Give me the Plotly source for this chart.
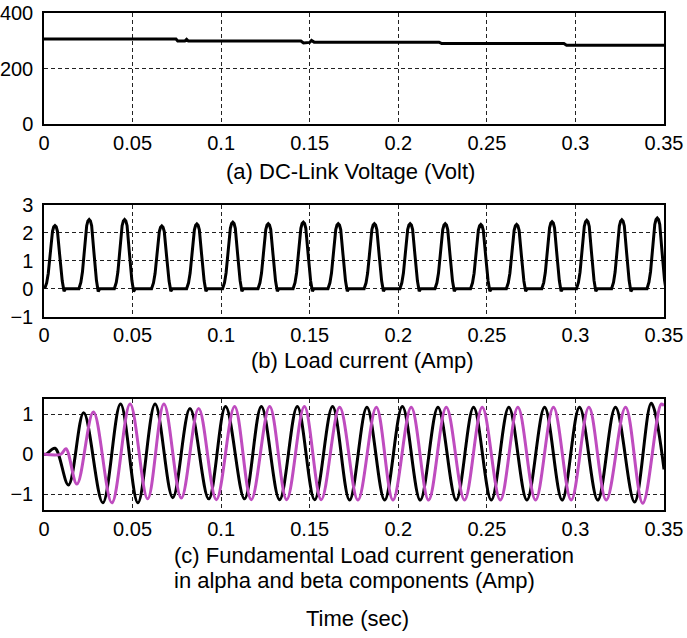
import plotly.graph_objects as go
from plotly.subplots import make_subplots

# ---------------- data ----------------
# (a) DC-link voltage, breakpoints of the stepped trace
dc_t = [0, 0.0745, 0.0755, 0.0795, 0.0805, 0.0815, 0.1450, 0.1465, 0.1500, 0.1510,
        0.1525, 0.2230, 0.2245, 0.2935, 0.2950, 0.35]
dc_v = [306, 306, 299, 299, 305, 299, 299, 292, 294, 301,
        295, 295, 290, 290, 284, 284]

# (b) load current: pulse peak times / peak values, plus pulse profile read from one pulse
peak_t = [0.0062, 0.0255, 0.0455, 0.0665, 0.0863, 0.1066, 0.1266, 0.1464, 0.1661,
          0.1865, 0.2067, 0.2265, 0.2466, 0.2668, 0.2868, 0.3064, 0.3262, 0.3462]
peak_v = [2.26, 2.48, 2.48, 2.25, 2.32, 2.38, 2.33, 2.38, 2.33,
          2.33, 2.33, 2.33, 2.30, 2.30, 2.40, 2.45, 2.47, 2.53]
pulse_dt = [-0.0058, -0.0047, -0.0038, -0.0026, -0.0014, -0.0007, 0.0,
            0.0007, 0.0014, 0.0027, 0.0041, 0.0051, 0.0060]
pulse_frac = [0.0, 0.09, 0.24, 0.56, 0.91, 0.98, 1.0,
              0.98, 0.91, 0.52, 0.12, -0.04, 0.0]

# (c) alpha (black) and beta (magenta) components: extrema of each trace
alpha_t = [0, 0.0012, 0.0062, 0.0138, 0.0224, 0.0332, 0.0432, 0.0530, 0.0627, 0.0727,
           0.0824, 0.0930, 0.1025, 0.1132, 0.1227, 0.1330, 0.1430, 0.1528, 0.1629,
           0.1725, 0.1823, 0.1923, 0.2023, 0.2124, 0.2224, 0.2327, 0.2425, 0.2525,
           0.2624, 0.2726, 0.2826, 0.2925, 0.3023, 0.3126, 0.3226, 0.3334, 0.3428, 0.3500]
alpha_v = [0, 0, 0.15, -0.77, 1.04, -1.22, 1.26, -1.22, 1.26, -1.09,
           1.15, -1.12, 1.20, -1.12, 1.20, -1.14, 1.20, -1.14, 1.20,
           -1.15, 1.18, -1.15, 1.20, -1.15, 1.18, -1.15, 1.18, -1.15,
           1.18, -1.15, 1.18, -1.15, 1.18, -1.15, 1.18, -1.20, 1.28, -0.38]
beta_t = [0, 0.0095, 0.0124, 0.0186, 0.0279, 0.0383, 0.0486, 0.0585, 0.0677, 0.0775,
          0.0873, 0.0973, 0.1076, 0.1170, 0.1274, 0.1370, 0.1470, 0.1565, 0.1669,
          0.1772, 0.1876, 0.1970, 0.2073, 0.2171, 0.2271, 0.2374, 0.2474, 0.2576,
          0.2675, 0.2775, 0.2876, 0.2976, 0.3076, 0.3174, 0.3283, 0.3380, 0.3484, 0.3500]
beta_v = [0, 0, 0.14, -0.75, 1.06, -1.22, 1.26, -1.12, 1.26, -1.10,
          1.15, -1.14, 1.20, -1.14, 1.20, -1.14, 1.20, -1.14, 1.18,
          -1.15, 1.18, -1.15, 1.18, -1.15, 1.18, -1.15, 1.18, -1.15,
          1.18, -1.15, 1.18, -1.15, 1.18, -1.15, 1.18, -1.23, 1.26, 1.22]

x_ticks = [0, 0.05, 0.1, 0.15, 0.2, 0.25, 0.3, 0.35]
x_ticktext = ["0", "0.05", "0.1", "0.15", "0.2", "0.25", "0.3", "0.35"]

captions = {
    "a": "(a) DC-Link Voltage (Volt)",
    "b": "(b) Load current (Amp)",
    "c1": "(c) Fundamental Load current generation",
    "c2": "in alpha and beta components (Amp)",
    "t": "Time (sec)",
}

# ---------------- build load-current trace ----------------
load_t, load_v = [], []
for tp, pv in zip(peak_t, peak_v):
    for dt, fr in zip(pulse_dt, pulse_frac):
        load_t.append(tp + dt)
        load_v.append(pv * fr)

# ---------------- figure ----------------
W, H = 687, 638
ML, MR, MT, MB = 44, 23, 13, 128
PH = H - MT - MB
PW = W - ML - MR

def py(ypx):
    return (H - MB - ypx) / PH

def px(xpx):
    return (xpx - ML) / PW

fig = make_subplots(rows=3, cols=1)
fig.add_trace(go.Scatter(x=dc_t, y=dc_v, mode="lines",
                         line=dict(color="black", width=3)), row=1, col=1)
fig.add_trace(go.Scatter(x=load_t, y=load_v, mode="lines",
                         line=dict(color="black", width=3)), row=2, col=1)
fig.add_trace(go.Scatter(x=alpha_t, y=alpha_v, mode="lines",
                         line=dict(color="black", width=3, shape="spline", smoothing=1)),
              row=3, col=1)
fig.add_trace(go.Scatter(x=beta_t, y=beta_v, mode="lines",
                         line=dict(color="#BF4CBF", width=3, shape="spline", smoothing=1)),
              row=3, col=1)

font = dict(family="Liberation Sans, Arial, sans-serif", color="black")
axis_common = dict(showline=True, mirror=True, linecolor="black", linewidth=1.5,
                   showgrid=True, gridcolor="#222", gridwidth=1, griddash="4px,3px",
                   zeroline=False, ticks="", automargin=False,
                   tickfont=dict(size=20, **font))

domains = {1: [py(124), 1.0], 2: [py(316.5), py(205)], 3: [0.0, py(398.5)]}
yranges = {1: [0, 400], 2: [-1, 3], 3: [-1.4, 1.4]}
yticks = {1: [0, 200, 400], 2: [-1, 0, 1, 2, 3], 3: [-1, 0, 1]}

for r in (1, 2, 3):
    fig.update_xaxes(range=[0, 0.35], tickvals=x_ticks, ticktext=x_ticktext,
                     domain=[0, 1], **axis_common, row=r, col=1)
    fig.update_yaxes(range=yranges[r], tickvals=yticks[r], domain=domains[r],
                     ticklabelstandoff=5, **axis_common, row=r, col=1)

ann_font = dict(size=22, **font)
anns = [
    dict(text=captions["a"], x=px(350), y=py(171), xanchor="center", yanchor="middle"),
    dict(text=captions["b"], x=px(362), y=py(361), xanchor="center", yanchor="middle"),
    dict(text=captions["c1"], x=px(172), y=py(555), xanchor="left", yanchor="middle"),
    dict(text=captions["c2"], x=px(172), y=py(580), xanchor="left", yanchor="middle"),
    dict(text=captions["t"], x=px(357), y=py(618), xanchor="center", yanchor="middle"),
]
for a in anns:
    fig.add_annotation(xref="paper", yref="paper", showarrow=False, font=ann_font, **a)

fig.update_layout(width=W, height=H, margin=dict(l=ML, r=MR, t=MT, b=MB),
                  paper_bgcolor="white", plot_bgcolor="white", showlegend=False)

fig.write_html("out.html", config={"displayModeBar": False},
               post_script="document.body.style.margin='0';document.body.style.overflow='hidden';")
